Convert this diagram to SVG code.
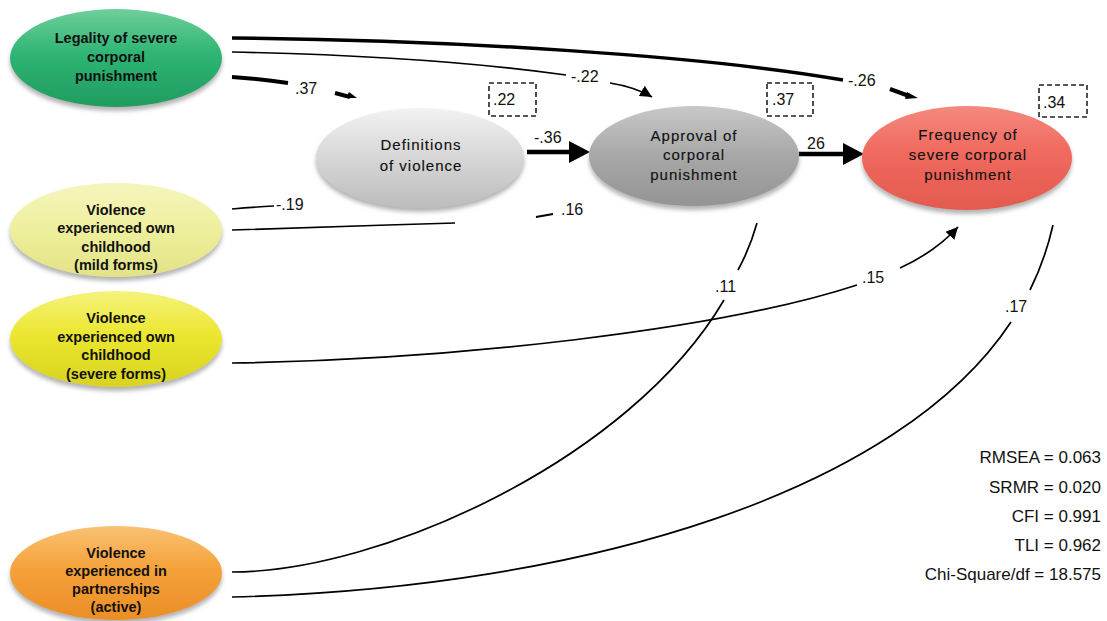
<svg xmlns="http://www.w3.org/2000/svg" width="1107" height="621" viewBox="0 0 1107 621">
<defs>
<style>
.lt{font-family:"Liberation Sans",Arial,sans-serif;font-size:14.5px;font-weight:bold;fill:#111;text-anchor:middle}
.ct{font-family:"Liberation Sans",Arial,sans-serif;font-size:15px;letter-spacing:1px;fill:#111;stroke:#111;stroke-width:0.15;text-anchor:middle}
.el{font-family:"Liberation Sans",Arial,sans-serif;font-size:16px;fill:#111}
.st{font-family:"Liberation Sans",Arial,sans-serif;font-size:17px;fill:#111;text-anchor:end}
.box{fill:none;stroke:#222;stroke-width:1.6;stroke-dasharray:5 3}
.thin{fill:none;stroke:#000;stroke-width:1.7}
.thick{fill:none;stroke:#000;stroke-width:4}
.head{fill:#000}
</style>
<filter id="sh" x="-10%" y="-10%" width="120%" height="130%">
<feGaussianBlur in="SourceAlpha" stdDeviation="2.2"/>
<feOffset dx="0" dy="4" result="b"/>
<feFlood flood-color="#777" flood-opacity="0.55"/>
<feComposite in2="b" operator="in"/>
<feMerge><feMergeNode/><feMergeNode in="SourceGraphic"/></feMerge>
</filter>
<linearGradient id="gGreen" x1="0" y1="0" x2="0" y2="1"><stop offset="0" stop-color="#6fcf9c"/><stop offset="0.45" stop-color="#2fb574"/><stop offset="1" stop-color="#1f9c60"/></linearGradient>
<linearGradient id="gLight" x1="0" y1="0" x2="0" y2="1"><stop offset="0" stop-color="#f2f2f2"/><stop offset="0.5" stop-color="#d6d6d6"/><stop offset="1" stop-color="#bdbdbd"/></linearGradient>
<linearGradient id="gGray" x1="0" y1="0" x2="0" y2="1"><stop offset="0" stop-color="#c8c8c8"/><stop offset="0.5" stop-color="#a7a7a7"/><stop offset="1" stop-color="#949494"/></linearGradient>
<linearGradient id="gRed" x1="0" y1="0" x2="0" y2="1"><stop offset="0" stop-color="#f5897e"/><stop offset="0.45" stop-color="#f0695e"/><stop offset="1" stop-color="#e35a4f"/></linearGradient>
<linearGradient id="gPale" x1="0" y1="0" x2="0" y2="1"><stop offset="0" stop-color="#f5f5bd"/><stop offset="0.5" stop-color="#eeef9c"/><stop offset="1" stop-color="#e2e386"/></linearGradient>
<linearGradient id="gYel" x1="0" y1="0" x2="0" y2="1"><stop offset="0" stop-color="#f5f27c"/><stop offset="0.45" stop-color="#ebe730"/><stop offset="1" stop-color="#d8d31f"/></linearGradient>
<linearGradient id="gOr" x1="0" y1="0" x2="0" y2="1"><stop offset="0" stop-color="#f9c274"/><stop offset="0.45" stop-color="#f5a23b"/><stop offset="1" stop-color="#ea8e25"/></linearGradient>
<marker id="ah" markerUnits="userSpaceOnUse" markerWidth="14" markerHeight="12" refX="12" refY="6" orient="auto"><path d="M0,0 L12,6 L0,12 Z" fill="#000"/></marker>
</defs>
<rect width="1107" height="621" fill="#fff"/>

<g id="connectors">
<!-- Legality -> Frequency (-.26) -->
<path class="thick" style="stroke-width:3.5" d="M232 38 C 450 40, 700 55, 843 80"/>
<path class="thick" d="M890 89 L 909 96"/>
<polygon class="head" points="907,92 918,98 905,99"/>
<!-- Legality -> Approval (-.22) -->
<path class="thin" d="M232 52 C 380 55, 480 63, 566 75"/>
<path class="thin" d="M610 83 Q 635 87, 652 97" marker-end="url(#ah)"/>
<!-- Legality -> Definitions (.37) -->
<path class="thick" d="M232 77 Q 262 79, 288 83"/>
<path class="thick" d="M335 93 L 350 97"/>
<polygon class="head" points="349,92 357,98 346,98"/>
<!-- Definitions -> Approval (-.36) -->
<path class="thick" style="stroke-width:4.5" d="M527 152 L 572 152"/>
<polygon class="head" points="569,141 590,152 569,163"/>
<!-- Approval -> Frequency (26) -->
<path class="thick" style="stroke-width:4.5" d="M799 154 L 846 154"/>
<polygon class="head" points="843,143 864,154 843,165"/>
<!-- Mild -> Definitions (-.19) -->
<path class="thin" d="M232 209 Q 255 207, 274 206"/>
<!-- Mild -> Approval (.16) -->
<path class="thin" d="M232 230 C 300 228, 380 225, 455 223"/>
<path class="thin" style="stroke-width:2.2" d="M536 217 L 553 214"/>
<!-- Severe -> Frequency (.15) -->
<path class="thin" d="M232 363 C 450 360, 720 330, 857 285"/>
<path class="thin" d="M900 268 Q 935 252, 958 227" marker-end="url(#ah)"/>
<!-- Active -> Approval (.11) -->
<path class="thin" d="M232 572 C 380 572, 630 460, 724 300"/>
<path class="thin" d="M757 223 Q 750 248, 738 270"/>
<!-- Active -> Frequency (.17) -->
<path class="thin" d="M232 597 C 590 588, 900 490, 1011 322"/>
<path class="thin" d="M1053 225 Q 1045 260, 1030 290"/>
</g>

<g id="edge-labels">
<text class="el" x="295" y="94">.37</text>
<text class="el" x="571" y="82">-.22</text>
<text class="el" x="848" y="86">-.26</text>
<text class="el" x="534" y="143">-.36</text>
<text class="el" x="807" y="149">26</text>
<text class="el" x="276" y="210">-.19</text>
<text class="el" x="561" y="215">.16</text>
<text class="el" x="862" y="283">.15</text>
<text class="el" x="715" y="292">.11</text>
<text class="el" x="1005" y="312">.17</text>
</g>

<g id="node-legality">
<ellipse cx="116" cy="58" rx="106" ry="49" fill="url(#gGreen)" filter="url(#sh)"/>
<text class="lt" x="116" y="43">Legality of severe</text>
<text class="lt" x="116" y="62">corporal</text>
<text class="lt" x="116" y="81">punishment</text>
</g>

<g id="node-mild">
<ellipse cx="116" cy="230" rx="106" ry="47" fill="url(#gPale)" filter="url(#sh)"/>
<text class="lt" x="116" y="215">Violence</text>
<text class="lt" x="116" y="233">experienced own</text>
<text class="lt" x="116" y="252">childhood</text>
<text class="lt" x="116" y="270">(mild forms)</text>
</g>

<g id="node-severe">
<ellipse cx="116" cy="339" rx="106" ry="48" fill="url(#gYel)" filter="url(#sh)"/>
<text class="lt" x="116" y="323">Violence</text>
<text class="lt" x="116" y="342">experienced own</text>
<text class="lt" x="116" y="360">childhood</text>
<text class="lt" x="116" y="379">(severe forms)</text>
</g>

<g id="node-active">
<ellipse cx="116" cy="573" rx="106" ry="47" fill="url(#gOr)" filter="url(#sh)"/>
<text class="lt" x="116" y="558">Violence</text>
<text class="lt" x="116" y="576">experienced in</text>
<text class="lt" x="116" y="594">partnerships</text>
<text class="lt" x="116" y="612">(active)</text>
</g>

<g id="node-definitions">
<ellipse cx="420" cy="158" rx="104" ry="50" fill="url(#gLight)" filter="url(#sh)"/>
<text class="ct" x="421" y="150">Definitions</text>
<text class="ct" x="421" y="171">of violence</text>
<rect class="box" x="489" y="83" width="47" height="33"/>
<text class="el" x="493" y="105">.22</text>
</g>

<g id="node-approval">
<ellipse cx="694" cy="156" rx="105" ry="50" fill="url(#gGray)" filter="url(#sh)"/>
<text class="ct" x="694" y="141">Approval of</text>
<text class="ct" x="694" y="160">corporal</text>
<text class="ct" x="694" y="180">punishment</text>
<rect class="box" x="767" y="83" width="46" height="33"/>
<text class="el" x="772" y="105">.37</text>
</g>

<g id="node-frequency">
<ellipse cx="967" cy="158" rx="105" ry="52" fill="url(#gRed)" filter="url(#sh)"/>
<text class="ct" x="968" y="140">Frequency of</text>
<text class="ct" x="968" y="160">severe corporal</text>
<text class="ct" x="968" y="180">punishment</text>
<rect class="box" x="1039" y="85" width="48" height="32"/>
<text class="el" x="1043" y="108">.34</text>
</g>

<g id="fit-stats">
<text class="st" x="1101" y="463">RMSEA = 0.063</text>
<text class="st" x="1101" y="493">SRMR = 0.020</text>
<text class="st" x="1101" y="522">CFI = 0.991</text>
<text class="st" x="1101" y="551">TLI = 0.962</text>
<text class="st" x="1101" y="580">Chi-Square/df = 18.575</text>
</g>
</svg>
